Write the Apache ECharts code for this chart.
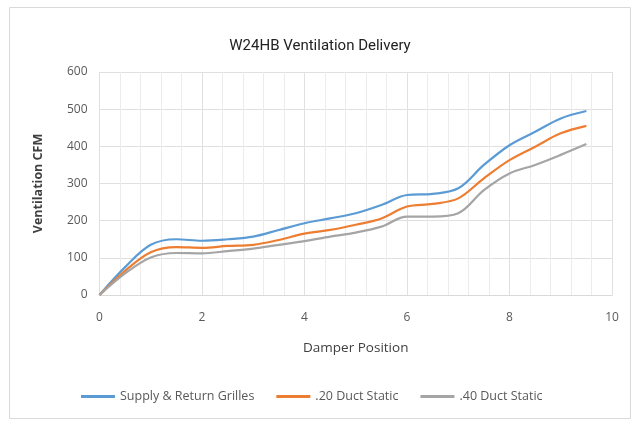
<!DOCTYPE html>
<html>
<head>
<meta charset="utf-8">
<script src="https://cdn.jsdelivr.net/npm/echarts@6/dist/echarts.min.js"></script>
<style>
  html, body { margin: 0; padding: 0; background: #fff; }
  #main { width: 640px; height: 426px; }
</style>
</head>
<body>
<div id="main"></div>
<script>
// damper positions
var positions = [0, 0.5, 1, 1.5, 2, 2.5, 3, 3.5, 4, 4.5, 5, 5.5, 6, 6.5, 7, 7.5, 8, 8.5, 9, 9.5];
// ventilation CFM per series
var supplyReturn = [0, 75, 135, 150, 146, 150, 157, 175, 193, 206, 220, 242, 269, 272, 287, 350, 403, 439, 475, 495];
var duct20 = [0, 65, 115, 129, 127, 132, 135, 148, 165, 175, 189, 206, 238, 245, 260, 314, 363, 399, 435, 455];
var duct40 = [0, 58, 101, 113, 112, 118, 125, 135, 145, 157, 168, 184, 211, 211, 220, 282, 327, 350, 377, 406];
var seriesNames = ['Supply & Return Grilles', '.20 Duct Static', '.40 Duct Static'];
var colors = ['#5B9BD5', '#ED7D31', '#A5A5A5'];

function pairs(vals) {
    var out = [];
    for (var i = 0; i < positions.length; i++) {
        out.push([positions[i], vals[i]]);
    }
    return out;
}

var myChart = echarts.init(document.getElementById('main'));
var allVals = [supplyReturn, duct20, duct40];
var series = [];
for (var s = 0; s < 3; s++) {
    series.push({
        name: seriesNames[s],
        type: 'line',
        data: pairs(allVals[s]),
        smooth: 0.35,
        showSymbol: false,
        lineStyle: { width: 2.2, color: colors[s] },
        itemStyle: { color: colors[s] }
    });
}

var option = {
    backgroundColor: '#fff',
    animation: false,
    color: colors,
    textStyle: { fontFamily: 'Open Sans' },
    graphic: [{
        type: 'rect',
        shape: { x: 9.5, y: 7.5, width: 621, height: 411 },
        style: { fill: 'none', stroke: '#d9d9d9', lineWidth: 1 },
        silent: true
    }],
    title: {
        text: 'W24HB Ventilation Delivery',
        left: 'center',
        top: 34,
        textStyle: { fontFamily: 'Roboto', fontSize: 15, fontWeight: 'normal', color: '#222' }
    },
    legend: {
        bottom: 18,
        left: 76,
        itemGap: 22,
        itemWidth: 34,
        itemHeight: 3,
        icon: 'rect',
        textStyle: { fontFamily: 'Open Sans', fontSize: 12.5, color: '#595959' },
        data: seriesNames
    },
    grid: { left: 99.5, right: 28, top: 72, bottom: 131 },
    xAxis: {
        type: 'value',
        min: 0,
        max: 10,
        interval: 2,
        name: 'Damper Position',
        nameLocation: 'middle',
        nameGap: 46,
        nameTextStyle: { fontFamily: 'Open Sans', fontSize: 13.5, color: '#404040' },
        axisLine: { show: true, lineStyle: { color: '#d9d9d9' } },
        axisTick: { show: false },
        axisLabel: { color: '#595959', fontSize: 12, margin: 17 },
        splitLine: { show: true, lineStyle: { color: '#e0e0e0' } },
        minorTick: { show: false, splitNumber: 5 },
        minorSplitLine: { show: true, lineStyle: { color: '#ececec' } }
    },
    yAxis: {
        type: 'value',
        min: 0,
        max: 600,
        interval: 100,
        name: 'Ventilation CFM',
        nameLocation: 'middle',
        nameGap: 55,
        nameTextStyle: { fontFamily: 'Open Sans', fontSize: 12.5, fontWeight: 'bold', color: '#404040' },
        axisLine: { show: false },
        axisTick: { show: false },
        axisLabel: { color: '#595959', fontSize: 12, margin: 12 },
        splitLine: { show: true, lineStyle: { color: '#e0e0e0' } }
    },
    series: series
};

myChart.setOption(option);
</script>
</body>
</html>
